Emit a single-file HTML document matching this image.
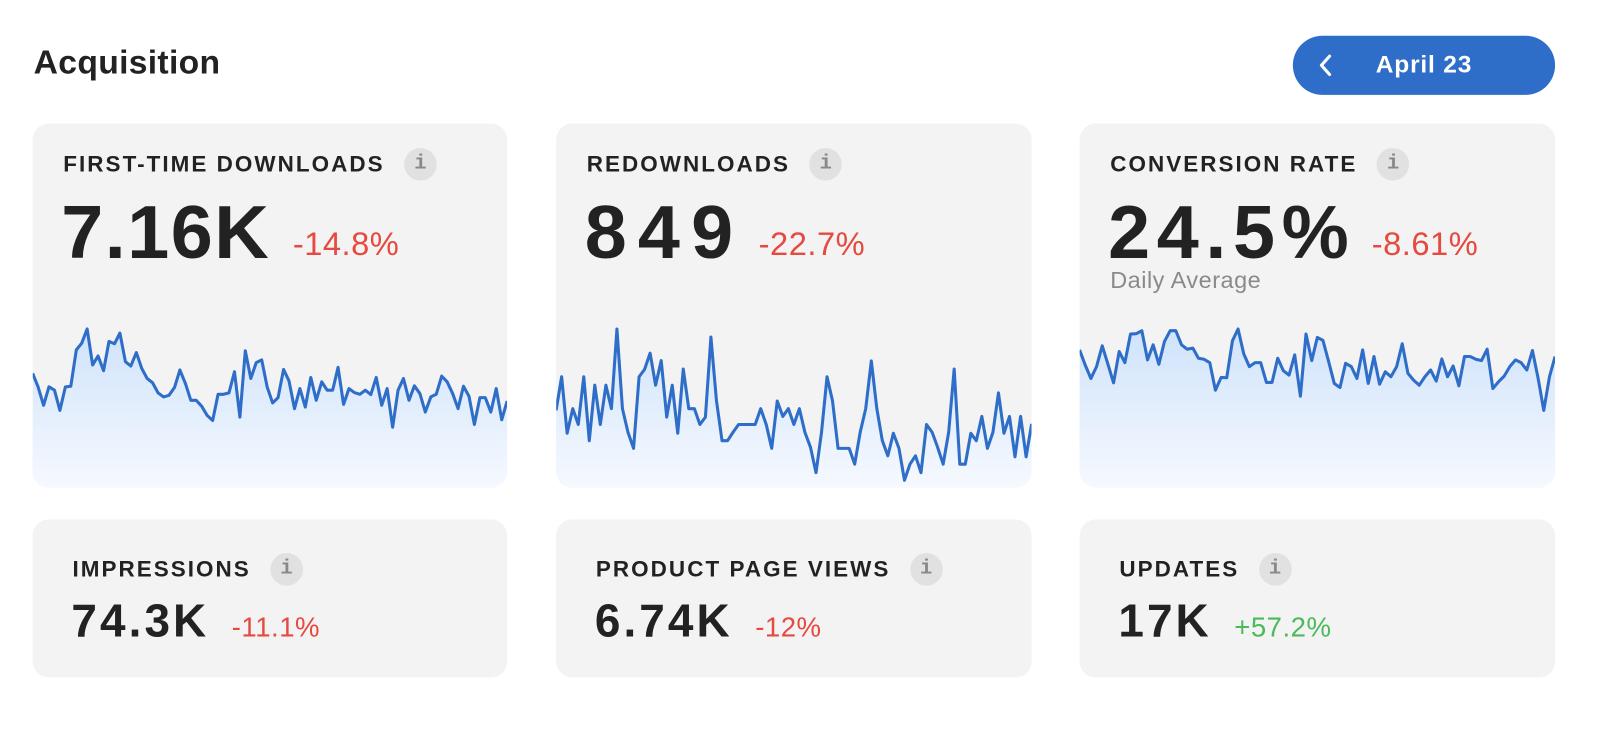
<!DOCTYPE html>
<html><head><meta charset="utf-8">
<style>
*{box-sizing:border-box;margin:0;padding:0}
body{width:1600px;height:750px;background:#fff;font-family:"Liberation Sans",sans-serif;overflow:hidden;color:#222}
#wrap{position:absolute;left:0;top:0;width:1568px;height:735px;transform:scale(1.0204);transform-origin:0 0}
.abs{position:absolute}
h1{position:absolute;left:33px;top:42px;font-size:33px;font-weight:bold;color:#222;letter-spacing:0.3px}
.btn{position:absolute;left:1267px;top:35px;width:257px;height:58px;border-radius:29px;background:#2f6ec8;color:#fff}
.btn .lbl{position:absolute;left:0;width:257px;text-align:center;top:15px;font-size:24px;font-weight:bold;letter-spacing:0.8px}
.card{position:absolute;background:#f3f3f3;border-radius:16px;overflow:hidden}
.row{position:absolute;display:flex;align-items:center;white-space:nowrap}
.t{font-size:22px;font-weight:bold;letter-spacing:2px;color:#222}
.info{width:32px;height:32px;border-radius:16px;background:#e1e1e1;color:#888;font-family:"Liberation Mono",monospace;font-size:20px;font-weight:bold;text-align:center;line-height:32px;margin-left:19px}
.vrow{position:absolute;white-space:nowrap}
.big{font-size:74px;font-weight:bold;color:#222}
.pct{font-size:32px;color:#e5493f;margin-left:22px;letter-spacing:0.5px;position:relative;top:-3px}
.mid{font-size:45px;font-weight:bold;color:#222;letter-spacing:3px}
.sp{font-size:27px;color:#e5493f;margin-left:22px;letter-spacing:0.5px}
svg.spark{position:absolute;left:0;top:0}
</style></head><body>
<div id="wrap">
<h1>Acquisition</h1>
<div class="btn">
<svg class="abs" style="left:25px;top:18px" width="14" height="22"><polyline points="11,2 3,11 11,20" fill="none" stroke="#fff" stroke-width="3" stroke-linecap="round" stroke-linejoin="round"/></svg>
<span class="lbl">April 23</span></div>

<div class="card" style="left:32px;top:121px;width:465px;height:357px">
<svg class="spark" id="s1" width="465" height="357"></svg>
<div class="row" style="left:30px;top:24px"><span class="t">FIRST-TIME DOWNLOADS</span><span class="info">i</span></div>
<div class="vrow" style="left:28px;top:64px"><span class="big" style="letter-spacing:1.5px">7.16K</span><span class="pct">-14.8%</span></div>
</div>
<div class="card" style="left:545px;top:121px;width:466px;height:357px">
<svg class="spark" id="s2" width="466" height="357"></svg>
<div class="row" style="left:30px;top:24px"><span class="t">REDOWNLOADS</span><span class="info">i</span></div>
<div class="vrow" style="left:28px;top:64px"><span class="big" style="letter-spacing:11px">849</span><span class="pct" style="margin-left:14px">-22.7%</span></div>
</div>
<div class="card" style="left:1058px;top:121px;width:466px;height:357px">
<svg class="spark" id="s3" width="466" height="357"></svg>
<div class="row" style="left:30px;top:24px"><span class="t">CONVERSION RATE</span><span class="info">i</span></div>
<div class="vrow" style="left:28px;top:64px"><span class="big" style="letter-spacing:6.5px">24.5%</span><span class="pct" style="margin-left:16px">-8.61%</span></div>
<div class="abs" style="left:30px;top:140px;font-size:23px;color:#8a8a8a;letter-spacing:0.5px">Daily Average</div>
</div>

<div class="card" style="left:32px;top:509px;width:465px;height:155px">
<div class="row" style="left:39px;top:33px"><span class="t">IMPRESSIONS</span><span class="info">i</span></div>
<div class="vrow" style="left:38px;top:74px"><span class="mid">74.3K</span><span class="sp">-11.1%</span></div>
</div>
<div class="card" style="left:545px;top:509px;width:466px;height:155px">
<div class="row" style="left:39px;top:33px"><span class="t">PRODUCT PAGE VIEWS</span><span class="info">i</span></div>
<div class="vrow" style="left:38px;top:74px"><span class="mid">6.74K</span><span class="sp">-12%</span></div>
</div>
<div class="card" style="left:1058px;top:509px;width:466px;height:155px">
<div class="row" style="left:39px;top:33px"><span class="t">UPDATES</span><span class="info">i</span></div>
<div class="vrow" style="left:38px;top:74px"><span class="mid">17K</span><span class="sp" style="color:#4cba5a">+57.2%</span></div>
</div>
</div>
<script>
const downloads=[340,300,245,300,290,230,300,302,410,430,472,365,392,348,435,428,460,375,362,402,355,325,312,282,270,275,298,350,310,260,260,242,215,200,278,278,282,345,210,407,325,372,380,300,252,268,352,318,235,295,240,328,260,315,290,290,358,248,295,283,278,290,277,328,245,295,180,290,325,260,303,280,225,270,278,332,315,280,235,302,272,188,268,268,225,295,202,258];
const redownloads=[230,330,162,235,188,330,140,305,188,305,235,472,235,165,117,330,352,400,305,378,210,305,162,353,235,235,188,210,448,260,140,140,165,188,188,188,188,235,188,117,258,212,235,188,235,165,120,45,165,330,258,117,117,117,70,165,235,377,235,140,95,162,117,22,70,95,45,188,165,120,70,165,353,70,70,162,140,212,117,165,282,162,212,92,212,92,190];
const conversion=[410,365,325,360,422,368,312,405,372,457,458,467,380,425,367,435,467,467,425,412,415,385,382,372,290,328,327,437,472,398,360,372,372,313,313,385,348,335,395,272,457,378,447,438,375,310,298,370,360,325,410,310,390,308,345,330,360,428,340,320,305,330,350,317,383,330,362,303,390,390,382,378,412,295,315,332,360,380,372,350,408,325,230,330,390];
function draw(id,vals,W,H){
  const svg=document.getElementById(id),ns='http://www.w3.org/2000/svg';
  const top=179,bot=357;
  const x=i=>i*(W/(vals.length-1));
  const y=v=>bot-(v/540)*(bot-top);
  const defs=document.createElementNS(ns,'defs');
  defs.innerHTML='<linearGradient id="g'+id+'" x1="0" y1="0" x2="0" y2="1"><stop offset="0" stop-color="#cfe3fb"/><stop offset="1" stop-color="#f6f9fe"/></linearGradient>';
  svg.appendChild(defs);
  let d=vals.map((v,i)=>(i?'L':'M')+x(i).toFixed(1)+','+y(v).toFixed(1)).join('');
  const area=document.createElementNS(ns,'path');
  area.setAttribute('d',d+'L'+W+','+H+'L0,'+H+'Z');
  area.setAttribute('fill','url(#g'+id+')');
  
  
  svg.appendChild(area);
  const line=document.createElementNS(ns,'path');
  line.setAttribute('d',d);
  line.setAttribute('fill','none');
  line.setAttribute('stroke','#2f6ec8');
  line.setAttribute('stroke-width','3');
  line.setAttribute('stroke-linejoin','round');
  
  
  svg.appendChild(line);
}
draw('s1',downloads,465,357);
draw('s2',redownloads,466,357);
draw('s3',conversion,466,357);
</script>
</body></html>
